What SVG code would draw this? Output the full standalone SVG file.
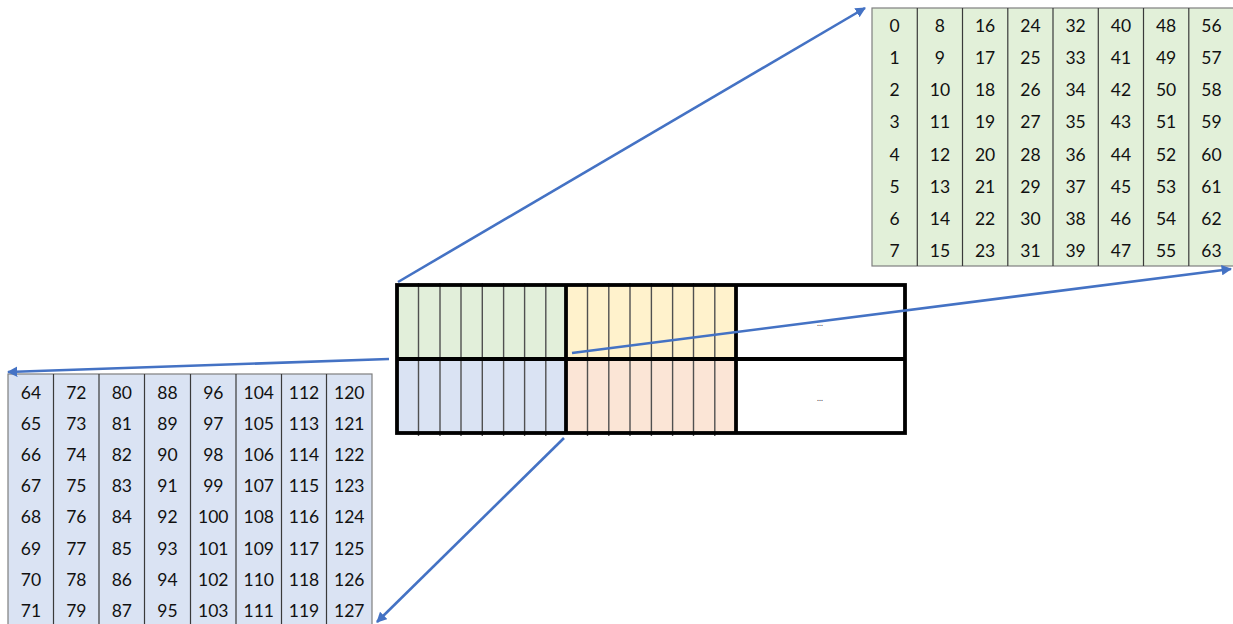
<svg xmlns="http://www.w3.org/2000/svg" width="1233" height="624" viewBox="0 0 1233 624">
<style>
.num{font-family:Lato,"Open Sans","Liberation Sans",sans-serif;font-size:17.5px;fill:#111;text-anchor:middle;dominant-baseline:central}
.tb{stroke:#7f7f7f;stroke-width:1.2;}
.col{stroke:#3a3a3a;stroke-width:1.2}
.thin{stroke:#505050;stroke-width:1.4}
.thick{fill:none;stroke:#000;stroke-width:3.8}
.conn{stroke:#4472C4;stroke-width:2.6;fill:none}
.dots{font-family:"Liberation Sans",sans-serif;font-size:7px;font-weight:bold;fill:#666;text-anchor:middle}
</style>
<defs>
<marker id="ah" viewBox="0 0 10 10" refX="9" refY="5" markerWidth="4" markerHeight="4" orient="auto" markerUnits="strokeWidth">
<path d="M0,0 L10,5 L0,10 z" fill="#4472C4"/>
</marker>
</defs>
<rect width="1233" height="624" fill="#fff"/>

<g id="grid">
<rect x="397" y="285" width="169" height="74" fill="#E2EFDA"/>
<rect x="566" y="285" width="170" height="74" fill="#FFF2CC"/>
<rect x="397" y="359" width="169" height="74" fill="#DAE3F3"/>
<rect x="566" y="359" width="170" height="74" fill="#FBE5D6"/>
<g class="thin">
<line x1="418.5" y1="283" x2="418.5" y2="436"/>
<line x1="440" y1="283" x2="440" y2="436"/>
<line x1="461" y1="283" x2="461" y2="436"/>
<line x1="482.3" y1="283" x2="482.3" y2="436"/>
<line x1="503.6" y1="283" x2="503.6" y2="436"/>
<line x1="524.6" y1="283" x2="524.6" y2="436"/>
<line x1="545.8" y1="283" x2="545.8" y2="436"/>
<line x1="587.5" y1="283" x2="587.5" y2="436"/>
<line x1="608.8" y1="283" x2="608.8" y2="436"/>
<line x1="630" y1="283" x2="630" y2="436"/>
<line x1="651.4" y1="283" x2="651.4" y2="436"/>
<line x1="672.6" y1="283" x2="672.6" y2="436"/>
<line x1="693.5" y1="283" x2="693.5" y2="436"/>
<line x1="714.8" y1="283" x2="714.8" y2="436"/>
</g>
<rect class="thick" x="397" y="285" width="508" height="148"/>
<line class="thick" x1="397" y1="359" x2="905" y2="359"/>
<line class="thick" x1="566" y1="285" x2="566" y2="433"/>
<line class="thick" x1="736" y1="285" x2="736" y2="433"/>
<text class="dots" x="820" y="326">...</text>
<text class="dots" x="820" y="401">...</text>
</g>

<g id="table-top">
<rect x="872" y="8" width="362" height="258" fill="#E2F0D9" class="tb"/>
<g class="col">
<line x1="917.3" y1="8" x2="917.3" y2="266"/>
<line x1="962.5" y1="8" x2="962.5" y2="266"/>
<line x1="1007.8" y1="8" x2="1007.8" y2="266"/>
<line x1="1053" y1="8" x2="1053" y2="266"/>
<line x1="1098.3" y1="8" x2="1098.3" y2="266"/>
<line x1="1143.5" y1="8" x2="1143.5" y2="266"/>
<line x1="1188.8" y1="8" x2="1188.8" y2="266"/>
</g>
<g class="num">
<text x="894.6" y="25">0</text><text x="939.9" y="25">8</text><text x="985.1" y="25">16</text><text x="1030.4" y="25">24</text><text x="1075.6" y="25">32</text><text x="1120.9" y="25">40</text><text x="1166.1" y="25">48</text><text x="1211.4" y="25">56</text>
<text x="894.6" y="57.3">1</text><text x="939.9" y="57.3">9</text><text x="985.1" y="57.3">17</text><text x="1030.4" y="57.3">25</text><text x="1075.6" y="57.3">33</text><text x="1120.9" y="57.3">41</text><text x="1166.1" y="57.3">49</text><text x="1211.4" y="57.3">57</text>
<text x="894.6" y="89.5">2</text><text x="939.9" y="89.5">10</text><text x="985.1" y="89.5">18</text><text x="1030.4" y="89.5">26</text><text x="1075.6" y="89.5">34</text><text x="1120.9" y="89.5">42</text><text x="1166.1" y="89.5">50</text><text x="1211.4" y="89.5">58</text>
<text x="894.6" y="121.8">3</text><text x="939.9" y="121.8">11</text><text x="985.1" y="121.8">19</text><text x="1030.4" y="121.8">27</text><text x="1075.6" y="121.8">35</text><text x="1120.9" y="121.8">43</text><text x="1166.1" y="121.8">51</text><text x="1211.4" y="121.8">59</text>
<text x="894.6" y="154">4</text><text x="939.9" y="154">12</text><text x="985.1" y="154">20</text><text x="1030.4" y="154">28</text><text x="1075.6" y="154">36</text><text x="1120.9" y="154">44</text><text x="1166.1" y="154">52</text><text x="1211.4" y="154">60</text>
<text x="894.6" y="186.3">5</text><text x="939.9" y="186.3">13</text><text x="985.1" y="186.3">21</text><text x="1030.4" y="186.3">29</text><text x="1075.6" y="186.3">37</text><text x="1120.9" y="186.3">45</text><text x="1166.1" y="186.3">53</text><text x="1211.4" y="186.3">61</text>
<text x="894.6" y="218.5">6</text><text x="939.9" y="218.5">14</text><text x="985.1" y="218.5">22</text><text x="1030.4" y="218.5">30</text><text x="1075.6" y="218.5">38</text><text x="1120.9" y="218.5">46</text><text x="1166.1" y="218.5">54</text><text x="1211.4" y="218.5">62</text>
<text x="894.6" y="250.8">7</text><text x="939.9" y="250.8">15</text><text x="985.1" y="250.8">23</text><text x="1030.4" y="250.8">31</text><text x="1075.6" y="250.8">39</text><text x="1120.9" y="250.8">47</text><text x="1166.1" y="250.8">55</text><text x="1211.4" y="250.8">63</text>
</g>
</g>

<g id="table-bottom">
<rect x="8" y="374" width="364" height="252" fill="#DAE3F3" class="tb"/>
<g class="col">
<line x1="53.5" y1="374" x2="53.5" y2="624"/>
<line x1="99" y1="374" x2="99" y2="624"/>
<line x1="144.5" y1="374" x2="144.5" y2="624"/>
<line x1="190.5" y1="374" x2="190.5" y2="624"/>
<line x1="236" y1="374" x2="236" y2="624"/>
<line x1="281.5" y1="374" x2="281.5" y2="624"/>
<line x1="326.5" y1="374" x2="326.5" y2="624"/>
</g>
<g class="num">
<text x="31" y="392">64</text><text x="76.3" y="392">72</text><text x="121.8" y="392">80</text><text x="167.5" y="392">88</text><text x="213.3" y="392">96</text><text x="258.8" y="392">104</text><text x="304" y="392">112</text><text x="349.3" y="392">120</text>
<text x="31" y="423.2">65</text><text x="76.3" y="423.2">73</text><text x="121.8" y="423.2">81</text><text x="167.5" y="423.2">89</text><text x="213.3" y="423.2">97</text><text x="258.8" y="423.2">105</text><text x="304" y="423.2">113</text><text x="349.3" y="423.2">121</text>
<text x="31" y="454.4">66</text><text x="76.3" y="454.4">74</text><text x="121.8" y="454.4">82</text><text x="167.5" y="454.4">90</text><text x="213.3" y="454.4">98</text><text x="258.8" y="454.4">106</text><text x="304" y="454.4">114</text><text x="349.3" y="454.4">122</text>
<text x="31" y="485.6">67</text><text x="76.3" y="485.6">75</text><text x="121.8" y="485.6">83</text><text x="167.5" y="485.6">91</text><text x="213.3" y="485.6">99</text><text x="258.8" y="485.6">107</text><text x="304" y="485.6">115</text><text x="349.3" y="485.6">123</text>
<text x="31" y="516.8">68</text><text x="76.3" y="516.8">76</text><text x="121.8" y="516.8">84</text><text x="167.5" y="516.8">92</text><text x="213.3" y="516.8">100</text><text x="258.8" y="516.8">108</text><text x="304" y="516.8">116</text><text x="349.3" y="516.8">124</text>
<text x="31" y="548">69</text><text x="76.3" y="548">77</text><text x="121.8" y="548">85</text><text x="167.5" y="548">93</text><text x="213.3" y="548">101</text><text x="258.8" y="548">109</text><text x="304" y="548">117</text><text x="349.3" y="548">125</text>
<text x="31" y="579.2">70</text><text x="76.3" y="579.2">78</text><text x="121.8" y="579.2">86</text><text x="167.5" y="579.2">94</text><text x="213.3" y="579.2">102</text><text x="258.8" y="579.2">110</text><text x="304" y="579.2">118</text><text x="349.3" y="579.2">126</text>
<text x="31" y="610.4">71</text><text x="76.3" y="610.4">79</text><text x="121.8" y="610.4">87</text><text x="167.5" y="610.4">95</text><text x="213.3" y="610.4">103</text><text x="258.8" y="610.4">111</text><text x="304" y="610.4">119</text><text x="349.3" y="610.4">127</text>
</g>
</g>

<g id="connectors">
<line class="conn" x1="398" y1="282" x2="865" y2="8" marker-end="url(#ah)"/>
<line class="conn" x1="572" y1="353" x2="1231" y2="269" marker-end="url(#ah)"/>
<line class="conn" x1="389" y1="359" x2="8" y2="372" marker-end="url(#ah)"/>
<line class="conn" x1="564" y1="438" x2="377" y2="622" marker-end="url(#ah)"/>
</g>
</svg>
